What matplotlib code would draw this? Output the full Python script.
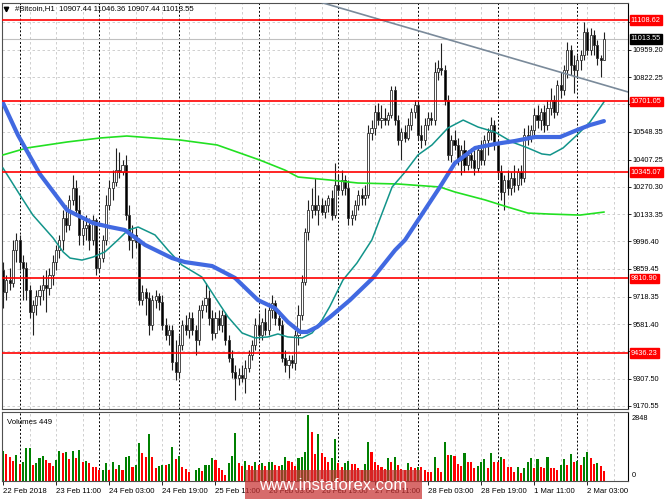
import matplotlib
matplotlib.use("Agg")
import matplotlib.pyplot as plt
from matplotlib.patches import Rectangle
from matplotlib.lines import Line2D
from matplotlib.transforms import blended_transform_factory

plt.rcParams['font.family'] = ['Liberation Sans', 'DejaVu Sans']

# hourly candles, 22 Feb 19:00 .. 2 Mar 08:00
opens = [
    9853, 9743, 9803, 9788, 9954, 10004, 9893, 9863, 9753, 9642,
    9677, 9722, 9753, 9778, 9763, 9828, 9893, 9954, 10004, 10114,
    10079, 10205, 10265, 10154, 10029, 10064, 10079, 10004, 10104, 9863,
    9913, 10004, 10179, 10265, 10295, 10355, 10345, 10380, 10129, 10004,
    10029, 9994, 9702, 9743, 9712, 9577, 9702, 9722, 9692, 9577,
    9527, 9552, 9391, 9341, 9476, 9577, 9552, 9612, 9552, 9502,
    9652, 9677, 9712, 9612, 9537, 9612, 9577, 9627, 9502, 9411,
    9341, 9311, 9326, 9311, 9361, 9426, 9476, 9577, 9527, 9592,
    9552, 9652, 9687, 9612, 9577, 9411, 9376, 9401, 9386, 9527,
    9627, 9793, 10044, 10154, 10179, 10154, 10179, 10144, 10179, 10215,
    10129, 10280, 10255, 10305, 10265, 10114, 10129, 10179, 10230, 10215,
    10230, 10541, 10566, 10647, 10606, 10616, 10606, 10631, 10757, 10606,
    10506, 10546, 10516, 10581, 10647, 10682, 10531, 10506, 10581, 10616,
    10606, 10847, 10868, 10857, 10707, 10431, 10506, 10481, 10405, 10456,
    10380, 10431, 10405, 10365, 10456, 10405, 10506, 10546, 10581, 10481,
    10345, 10245, 10305, 10265, 10315, 10280, 10345, 10315, 10531, 10516,
    10556, 10631, 10606, 10647, 10581, 10667, 10707, 10647, 10782, 10757,
    10857, 10958, 10883, 10857, 10908, 10933, 11048, 10958, 11033, 10983,
    10918, 10907.44,
]
highs = [
    9893, 9828, 9863, 10004, 10039, 10029, 9928, 9893, 9778, 9702,
    9753, 9778, 9828, 9853, 9863, 9928, 9979, 10029, 10154, 10179,
    10230, 10330, 10305, 10230, 10104, 10129, 10114, 10129, 10114, 9954,
    10029, 10230, 10305, 10355, 10466, 10446, 10405, 10431, 10179, 10079,
    10064, 10014, 9778, 9763, 9743, 9728, 9753, 9738, 9728, 9612,
    9577, 9577, 9502, 9527, 9602, 9627, 9642, 9642, 9577, 9677,
    9702, 9788, 9753, 9652, 9642, 9652, 9652, 9642, 9527, 9451,
    9376, 9361, 9376, 9401, 9451, 9502, 9612, 9637, 9612, 9662,
    9687, 9728, 9702, 9652, 9602, 9451, 9426, 9426, 9552, 9677,
    9828, 10064, 10205, 10265, 10315, 10230, 10215, 10205, 10230, 10255,
    10390, 10330, 10355, 10330, 10305, 10154, 10205, 10255, 10265, 10280,
    10581, 10606, 10682, 10692, 10682, 10667, 10647, 10777, 10777, 10631,
    10566, 10581, 10616, 10667, 10707, 10707, 10581, 10616, 10647, 10647,
    10898, 10908, 10993, 10883, 10732, 10531, 10556, 10516, 10481, 10506,
    10456, 10466, 10456, 10481, 10506, 10531, 10566, 10621, 10606, 10506,
    10380, 10330, 10355, 10345, 10380, 10365, 10380, 10566, 10581, 10581,
    10667, 10682, 10667, 10682, 10707, 10767, 10732, 10807, 10847, 10883,
    10998, 10983, 10933, 10933, 10958, 11099, 11068, 11068, 11058, 11008,
    10933, 11046.36,
]
lows = [
    9662, 9702, 9753, 9768, 9893, 9853, 9702, 9702, 9612, 9527,
    9627, 9677, 9702, 9642, 9728, 9778, 9853, 9913, 9954, 10044,
    10054, 10179, 10129, 9979, 9979, 10004, 9954, 9979, 9828, 9843,
    9893, 9979, 10154, 10205, 10275, 10315, 10330, 10104, 9954, 9913,
    9964, 9677, 9677, 9627, 9527, 9552, 9662, 9652, 9552, 9502,
    9476, 9351, 9301, 9311, 9451, 9527, 9512, 9527, 9426, 9476,
    9612, 9642, 9577, 9502, 9512, 9552, 9542, 9476, 9391, 9311,
    9200, 9276, 9291, 9235, 9341, 9401, 9451, 9502, 9502, 9527,
    9527, 9612, 9577, 9552, 9391, 9341, 9311, 9361, 9351, 9476,
    9602, 9778, 10004, 10114, 10129, 10079, 10129, 10114, 10144, 10104,
    10114, 10230, 10230, 10230, 10079, 10079, 10104, 10154, 10179, 10179,
    10215, 10506, 10531, 10581, 10566, 10581, 10581, 10616, 10581, 10481,
    10405, 10496, 10506, 10556, 10616, 10506, 10466, 10481, 10556, 10581,
    10581, 10807, 10832, 10682, 10405, 10395, 10456, 10380, 10330, 10345,
    10355, 10365, 10330, 10345, 10380, 10380, 10431, 10506, 10456, 10315,
    10205, 10154, 10230, 10230, 10245, 10255, 10280, 10295, 10481, 10496,
    10531, 10566, 10556, 10546, 10556, 10631, 10616, 10631, 10717, 10732,
    10817, 10832, 10742, 10817, 10857, 10908, 10933, 10933, 10933, 10883,
    10822, 10907.44,
]
closes = [
    9743, 9803, 9788, 9954, 10004, 9893, 9863, 9753, 9642, 9677,
    9722, 9753, 9778, 9763, 9828, 9893, 9954, 10004, 10114, 10079,
    10205, 10265, 10154, 10029, 10064, 10079, 10004, 10104, 9863, 9913,
    10004, 10179, 10265, 10295, 10355, 10345, 10380, 10129, 10004, 10029,
    9994, 9702, 9743, 9712, 9577, 9702, 9722, 9692, 9577, 9527,
    9552, 9391, 9341, 9476, 9577, 9552, 9612, 9552, 9502, 9652,
    9677, 9712, 9612, 9537, 9612, 9577, 9627, 9502, 9411, 9341,
    9311, 9326, 9311, 9361, 9426, 9476, 9577, 9527, 9592, 9552,
    9652, 9687, 9612, 9577, 9411, 9376, 9401, 9386, 9527, 9627,
    9793, 10044, 10154, 10179, 10154, 10179, 10144, 10179, 10215, 10129,
    10280, 10255, 10305, 10265, 10114, 10129, 10179, 10230, 10215, 10230,
    10541, 10566, 10647, 10606, 10616, 10606, 10631, 10757, 10606, 10506,
    10546, 10516, 10581, 10647, 10682, 10531, 10506, 10581, 10616, 10606,
    10847, 10868, 10857, 10707, 10431, 10506, 10481, 10405, 10456, 10380,
    10431, 10405, 10365, 10456, 10405, 10506, 10546, 10581, 10481, 10345,
    10245, 10305, 10265, 10315, 10280, 10345, 10315, 10531, 10516, 10556,
    10631, 10606, 10647, 10581, 10667, 10707, 10647, 10782, 10757, 10857,
    10958, 10883, 10857, 10908, 10933, 11048, 10958, 11033, 10983, 10918,
    10908, 11013.55,
]
volumes = [
    1307, 1165, 1020, 877, 1122, 733, 833, 1410, 1420, 690,
    762, 978, 1093, 906, 791, 647, 906, 1307, 1222, 1265,
    935, 1307, 978, 1337, 833, 850, 762, 618, 590, 475,
    490, 791, 475, 805, 518, 690, 475, 1050, 1080, 618,
    690, 1625, 1222, 1050, 2028, 1020, 560, 647, 690, 680,
    733, 1452, 935, 1080, 590, 518, 374, 20, 475, 560,
    430, 690, 700, 978, 906, 560, 475, 260, 762, 1080,
    2057, 791, 647, 877, 690, 640, 805, 690, 791, 647,
    805, 833, 690, 647, 690, 1020, 877, 833, 647, 978,
    1020, 1265, 2848, 2127, 1180, 2028, 1208, 1035, 820, 992,
    1812, 777, 604, 790, 863, 733, 720, 560, 475, 733,
    1697, 1265, 805, 690, 590, 518, 978, 833, 1050, 690,
    518, 475, 762, 590, 580, 618, 590, 475, 403, 374,
    1020, 560, 403, 1668, 1122, 1130, 1080, 733, 662, 1208,
    833, 805, 560, 647, 805, 935, 560, 1222, 833, 805,
    1050, 935, 618, 610, 403, 618, 360, 560, 805, 978,
    560, 935, 590, 580, 1050, 560, 555, 460, 690, 935,
    690, 1165, 833, 877, 690, 1050, 1265, 978, 733, 791,
    647, 449,
]

# moving averages read at sample bars
ma_blue_x = [0, 4.5, 11.1, 19.3, 27.1, 32.2, 36.7, 42.8, 50.9, 54.8, 63.0, 69.9,
             76.8, 81.9, 85.8, 89.5, 91.6, 94.6, 98.5, 104.5, 111.4, 118.1, 121.1,
             131.6, 136.1, 142.2, 148.2, 154.2, 160.2, 167.8, 172.9, 176.8, 181]
ma_blue_y = [10692, 10531, 10335, 10154, 10089, 10069, 10054, 9979, 9913, 9893, 9873, 9813,
             9702, 9662, 9592, 9542, 9542, 9567, 9617, 9702, 9813, 9953, 10004,
             10270, 10390, 10466, 10486, 10501, 10521, 10521, 10556, 10581, 10601]
ma_teal_x = [0, 5.1, 9.0, 15.1, 18.1, 20.2, 23.8, 27.1, 30.7, 34.6, 37.7, 40.7, 45.8,
             49.7, 53.9, 59.9, 65.4, 67.8, 72.0, 75.9, 79.8, 82.8, 85.8, 90.1, 93.1,
             96.1, 98.5, 102.4, 106.6, 111.1, 117.2, 121.1, 125.0, 129.2, 134.0,
             138.6, 143.1, 148.2, 153.3, 158.1, 162.3, 164.8, 168.7, 172.9, 176.8, 181]
ma_teal_y = [10365, 10230, 10129, 10014, 9944, 9913, 9903, 9918, 9944, 10004, 10054, 10069, 10029,
             9953, 9878, 9818, 9677, 9617, 9537, 9512, 9517, 9532, 9517, 9512, 9537,
             9602, 9672, 9803, 9888, 10004, 10270, 10345, 10431, 10481, 10566,
             10606, 10571, 10546, 10496, 10466, 10436, 10431, 10466, 10531, 10596, 10697]
ma_green_x = [0, 7.2, 19.3, 29.2, 37.3, 53.3, 64.5, 77.4, 84.9, 88.9, 98.5, 106.9,
              119.0, 131.6, 136.1, 145.2, 152.1, 158.1, 164.8, 173.8, 181]
ma_green_y = [10431, 10466, 10496, 10516, 10526, 10506, 10481, 10405, 10355, 10320, 10305, 10290,
              10285, 10270, 10245, 10205, 10169, 10139, 10134, 10129, 10144]

levels = [11108.62, 10701.05, 10345.07, 9810.90, 9436.23]
bid = 11013.55
trend_x = [95, 188.3]
trend_y = [11201, 10747]

price_ticks = [11096.15, 10959.20, 10822.25, 10685.30, 10548.35, 10407.25, 10270.30,
               10133.35, 9996.40, 9859.45, 9718.35, 9581.40, 9444.45, 9307.50, 9170.55]
date_pos = [0, 16, 32, 48, 64, 80, 96, 112, 128, 144, 160, 176]
date_labels = ["22 Feb 2018", "23 Feb 11:00", "24 Feb 03:00", "24 Feb 19:00",
               "25 Feb 11:00", "26 Feb 03:00", "26 Feb 19:00", "27 Feb 11:00",
               "28 Feb 03:00", "28 Feb 19:00", "1 Mar 11:00", "2 Mar 03:00"]
day_breaks = [5, 29, 53, 77, 101, 125, 149, 173]

W, H = 665, 499
fig = plt.figure(figsize=(W / 100, H / 100), dpi=100)
fig.patch.set_facecolor('white')


def px_axes(x0, y0, x1, y1):
    return fig.add_axes([x0 / W, 1 - y1 / H, (x1 - x0) / W, (y1 - y0) / H])


ax = px_axes(2, 3, 628, 409)
vax = px_axes(2, 412, 628, 481)

xlim = (-0.3, 188.25)
fs = 5.6
fs_r = 5.3
grid_kw = dict(color='#c8c8c8', lw=0.6, linestyle=(0, (3, 3)), zorder=0)
sep_kw = dict(color='black', lw=0.7, linestyle=(0, (2, 2)), zorder=0.5)

for a in (ax, vax):
    a.set_xlim(*xlim)
    for b in range(8, 189, 8):
        a.axvline(b, **grid_kw)
    for b in day_breaks:
        a.axvline(b, **sep_kw)
    for s in a.spines.values():
        s.set_color('#505050')
        s.set_linewidth(0.8)
    a.spines['right'].set_color('black')

ax.set_ylim(9155.1, 11194.0)
for p in price_ticks:
    ax.axhline(p, **grid_kw)
ax.axhline(bid, color='#c0c0c0', lw=0.8, zorder=0.6)

# candles
n = len(closes)
xs = list(range(n))
ax.vlines(xs, lows, highs, color='#202020', lw=0.8, zorder=2)
for i in range(n):
    o, c = opens[i], closes[i]
    up = c >= o
    ax.bar(i, max(abs(c - o), 4), bottom=min(o, c), width=0.62,
           color='white' if up else 'black', edgecolor='#303030',
           linewidth=0.6, zorder=2.5)

ax.plot(ma_green_x, ma_green_y, color='#22e022', lw=1.2, zorder=3)
ax.plot(ma_teal_x, ma_teal_y, color='#12948a', lw=1.1, zorder=3)
ax.plot(ma_blue_x, ma_blue_y, color='#4169e1', lw=3.0, zorder=3.2,
        solid_capstyle='round')
ax.plot(trend_x, trend_y, color='#7a8a9a', lw=1.2, zorder=3.5)
for lv in levels:
    ax.axhline(lv, color='red', lw=1.2, zorder=4)

ax.set_xticks([])
ax.yaxis.tick_right()
ax.set_yticks(price_ticks)
ax.set_yticklabels([f"{p:.2f}" for p in price_ticks])
ax.tick_params(axis='y', labelsize=fs_r, length=2, width=0.6, pad=1.5, colors='black')

tr = blended_transform_factory(ax.transAxes, ax.transData)
for lv in levels:
    ax.text(1.0045, lv, f"{lv:.2f}", transform=tr, fontsize=fs_r, color='white',
            va='center', ha='left', zorder=10, clip_on=False,
            bbox=dict(boxstyle='square,pad=0.15', fc='red', ec='red'))
ax.text(1.0045, bid, f"{bid:.2f}", transform=tr, fontsize=fs_r, color='white',
        va='center', ha='left', zorder=10, clip_on=False,
        bbox=dict(boxstyle='square,pad=0.15', fc='black', ec='black'))

# volumes
vcol = ['green'] + ['green' if volumes[i] > volumes[i - 1] else 'red'
                    for i in range(1, n)]
vax.bar(xs, volumes, width=0.62, color=vcol, zorder=2)
vax.set_ylim(0, 2977)
vax.set_yticks([])
vax.set_xticks(date_pos)
vax.set_xticklabels(date_labels, ha='left')
vax.tick_params(axis='x', labelsize=fs, length=3, width=0.6, pad=2)
vax.text(0.008, 0.9, "Volumes 449", transform=vax.transAxes, fontsize=fs,
         va='top', ha='left')
vtr = blended_transform_factory(vax.transAxes, vax.transData)
vax.text(1.006, 2848, "2848", transform=vtr, fontsize=fs_r, va='top', ha='left',
         clip_on=False)
vax.text(1.006, 90, "0", transform=vtr, fontsize=fs_r, va='bottom', ha='left',
         clip_on=False)

# header
fig.add_artist(Line2D([6 / W], [1 - 9 / H], marker='v', ms=3.2, color='black',
                      transform=fig.transFigure))
fig.text(15 / W, 1 - 9 / H, "#Bitcoin,H1  10907.44 11046.36 10907.44 11013.55",
         fontsize=fs, va='center', ha='left')

# watermark
fig.add_artist(Rectangle((245 / W, 0), (422 - 245) / W, 29 / H,
                         transform=fig.transFigure, fc='#c83232', ec='none',
                         alpha=0.72, zorder=20))
fig.text(333 / W, 1 - 485 / H, "www.instaforex.com", fontsize=12, color='white',
         ha='center', va='center', zorder=21)

fig.savefig("out.png", dpi=100)
